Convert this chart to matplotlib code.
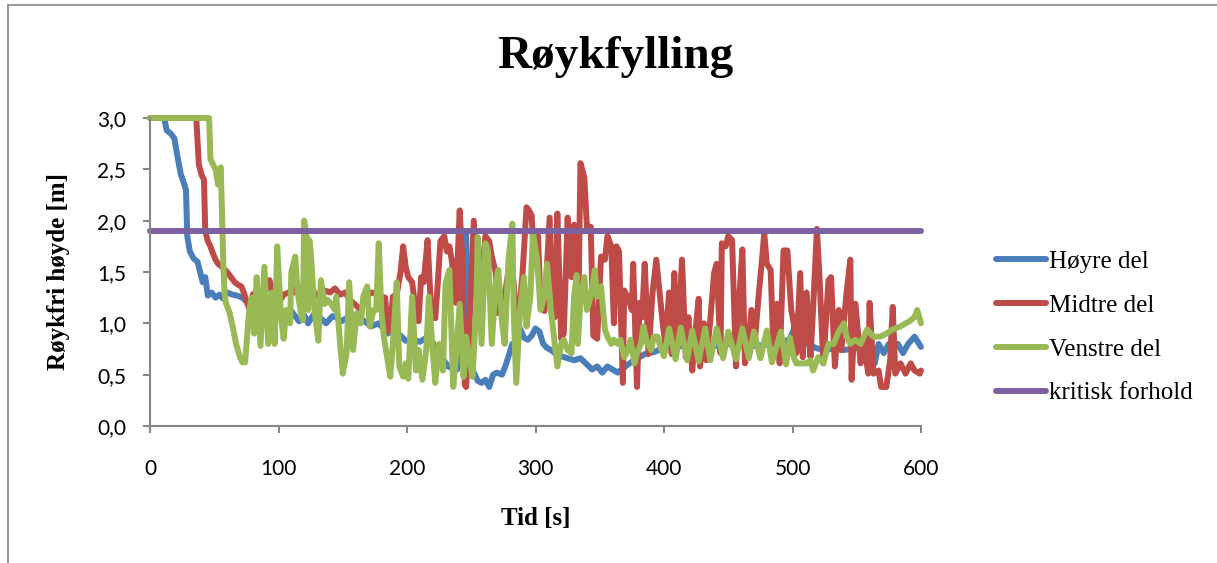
import matplotlib
matplotlib.use('Agg')
import matplotlib.pyplot as plt
from matplotlib.ticker import FuncFormatter, MultipleLocator
from matplotlib.lines import Line2D

# Høyre del
t_hoyre = [0, 11, 13, 16, 19, 21, 24, 26, 28, 29, 31, 34, 37, 39, 41, 43, 45, 48, 51, 54,
           57, 60, 64, 68, 72, 76, 80, 85, 90, 95, 100, 105, 110, 116, 120, 123, 127, 132, 137, 142,
           146, 149, 154, 160, 166, 172, 178, 185, 190, 195, 199, 205, 210, 215, 220, 224, 228, 232, 236, 239,
           242, 246, 248, 251, 255, 258, 261, 264, 267, 270, 274, 277, 282, 285, 288, 291, 294, 297, 300, 303,
           306, 309, 312, 316, 320, 325, 330, 335, 340, 344, 348, 352, 356, 360, 364, 368, 372, 378, 385, 392,
           400, 410, 420, 430, 440, 450, 460, 470, 480, 490, 498, 502, 506, 512, 518, 524, 530, 540, 550, 560,
           564, 567, 571, 575, 578, 582, 586, 590, 595, 600]
v_hoyre = [3.0, 3.0, 2.88, 2.85, 2.80, 2.65, 2.45, 2.38, 2.30, 1.85, 1.70, 1.63, 1.60, 1.50, 1.40, 1.45, 1.27, 1.30, 1.25, 1.28,
           1.24, 1.30, 1.28, 1.27, 1.25, 1.20, 1.18, 1.15, 1.13, 1.12, 1.12, 1.10, 1.12, 1.02, 1.08, 1.00, 1.08, 1.06, 1.00, 1.07,
           1.05, 1.02, 1.06, 1.04, 1.03, 0.97, 1.00, 0.90, 0.93, 0.88, 0.83, 0.84, 0.82, 0.86, 0.82, 0.66, 0.65, 0.58, 0.56, 0.55,
           1.25, 1.90, 0.80, 0.55, 0.44, 0.42, 0.45, 0.38, 0.50, 0.52, 0.50, 0.60, 0.80, 0.78, 0.95, 0.86, 0.84, 0.88, 0.95, 0.92,
           0.80, 0.76, 0.74, 0.70, 0.68, 0.66, 0.64, 0.66, 0.60, 0.55, 0.58, 0.52, 0.58, 0.55, 0.52, 0.56, 0.60, 0.65, 0.70, 0.72,
           0.76, 0.78, 0.77, 0.79, 0.78, 0.80, 0.79, 0.78, 0.79, 0.80, 0.85, 0.97, 0.88, 0.80, 0.76, 0.74, 0.75, 0.74, 0.76, 0.72,
           0.61, 0.80, 0.71, 0.80, 0.74, 0.80, 0.71, 0.80, 0.87, 0.77]

# Midtre del
t_midtre = [0, 36, 38, 40, 42, 43, 45, 47, 49, 51, 53, 56, 60, 63, 66, 68, 71, 73, 75, 77,
            80, 84, 88, 93, 96, 100, 104, 108, 112, 115, 119, 124, 128, 132, 136, 140, 144, 148, 152, 156,
            160, 164, 168, 172, 176, 180, 183, 185, 187, 189, 192, 195, 197, 199, 201, 204, 207, 209, 211, 213,
            216, 219, 222, 224, 226, 229, 231, 233, 235, 238, 241, 243, 245, 246, 248, 252, 255, 258, 261, 264,
            266, 269, 271, 274, 276, 277, 280, 283, 286, 288, 290, 293, 295, 297, 299, 302, 304, 307, 311, 313,
            315, 317, 320, 322, 325, 328, 330, 333, 335, 338, 340, 343, 345, 348, 351, 354, 356, 359, 361, 363,
            365, 368, 369, 372, 375, 376, 379, 381, 383, 385, 388, 391, 394, 397, 399, 401, 404, 406, 408, 410,
            412, 414, 417, 419, 422, 424, 427, 428, 431, 433, 436, 439, 441, 444, 445, 448, 450, 453, 456, 458,
            461, 463, 466, 468, 471, 474, 476, 478, 480, 483, 485, 488, 490, 493, 496, 499, 501, 503, 506, 508,
            511, 514, 516, 519, 521, 524, 528, 530, 533, 536, 538, 542, 545, 546, 549, 553, 555, 559, 560, 563,
            567, 569, 573, 576, 578, 580, 584, 588, 592, 595, 599, 600]
v_midtre = [3.0, 3.0, 2.55, 2.45, 2.40, 1.90, 1.80, 1.75, 1.68, 1.62, 1.58, 1.55, 1.50, 1.45, 1.40, 1.38, 1.36, 1.30, 1.22, 1.15,
            1.28, 1.32, 1.25, 1.42, 1.28, 1.20, 1.28, 1.30, 1.30, 1.36, 1.28, 1.39, 1.30, 1.25, 1.32, 1.30, 1.34, 1.28, 1.30, 1.22,
            1.18, 1.13, 1.25, 1.30, 1.29, 1.26, 1.25, 0.92, 0.95, 1.26, 1.28, 1.50, 1.75, 1.55, 1.45, 1.40, 1.10, 1.02, 1.45, 1.40,
            1.81, 1.06, 1.05, 1.40, 1.80, 1.85, 1.70, 1.75, 1.60, 1.20, 2.10, 1.62, 0.40, 0.38, 0.80, 2.00, 1.00, 1.40, 1.85, 1.80,
            1.65, 1.50, 1.10, 1.30, 0.85, 1.35, 1.60, 1.40, 0.85, 1.20, 1.50, 2.13, 2.10, 2.05, 1.60, 1.85, 1.15, 1.12, 2.03, 1.10,
            1.06, 2.07, 0.85, 0.90, 2.03, 1.45, 1.96, 0.85, 2.56, 2.42, 1.94, 1.94, 0.88, 0.85, 1.65, 1.62, 1.85, 1.75, 1.00, 1.75,
            1.70, 0.42, 1.32, 1.25, 1.13, 1.58, 0.38, 1.20, 1.06, 1.58, 0.70, 1.29, 1.62, 1.25, 1.00, 0.80, 1.30, 0.70, 1.49, 0.74,
            1.10, 1.62, 0.67, 1.06, 0.54, 0.87, 1.24, 0.58, 1.00, 0.64, 1.03, 1.49, 1.58, 0.71, 1.78, 1.75, 1.85, 1.81, 0.58, 1.13,
            1.72, 0.61, 0.84, 1.13, 0.87, 1.32, 1.58, 1.88, 1.58, 1.52, 0.80, 1.19, 0.61, 1.71, 1.71, 1.13, 1.00, 0.71, 1.49, 0.67,
            1.30, 0.67, 1.13, 1.92, 1.45, 0.61, 1.42, 1.45, 0.58, 1.13, 0.74, 1.29, 1.62, 0.45, 1.19, 0.61, 0.84, 0.51, 1.20, 0.51,
            0.54, 0.38, 0.38, 0.64, 1.16, 0.51, 0.61, 0.51, 0.61, 0.54, 0.51, 0.54]

# Venstre del
t_venstre = [0, 46, 47, 49, 51, 53, 55, 56, 57, 58, 59, 62, 65, 67, 70, 72, 74, 75, 77, 79,
             81, 83, 86, 89, 92, 95, 97, 99, 102, 104, 106, 109, 110, 113, 115, 118, 119, 120, 122, 123,
             124, 125, 128, 131, 133, 136, 138, 141, 144, 145, 148, 150, 153, 155, 158, 161, 164, 166, 169, 171,
             174, 176, 178, 180, 182, 184, 187, 189, 192, 194, 197, 199, 201, 204, 207, 209, 212, 215, 217, 220,
             222, 225, 228, 230, 233, 236, 238, 241, 244, 246, 249, 251, 254, 255, 258, 261, 263, 266, 269, 271,
             274, 276, 279, 282, 283, 285, 288, 291, 293, 296, 298, 301, 304, 307, 309, 312, 315, 317, 320, 322,
             325, 328, 330, 332, 333, 335, 338, 340, 343, 346, 348, 351, 354, 356, 359, 361, 364, 366, 369, 372,
             374, 377, 379, 382, 384, 387, 390, 392, 395, 398, 400, 404, 409, 413, 418, 422, 427, 432, 436, 441,
             446, 450, 456, 461, 466, 470, 475, 480, 484, 491, 495, 498, 501, 503, 507, 511, 514, 516, 520, 524,
             528, 532, 536, 540, 542, 545, 549, 553, 558, 563, 568, 573, 578, 584, 588, 591, 595, 597, 600]
v_venstre = [3.0, 3.0, 2.60, 2.55, 2.50, 2.35, 2.52, 2.10, 1.60, 1.30, 1.20, 1.10, 0.93, 0.80, 0.67, 0.62, 0.62, 0.78, 1.10, 1.25,
             0.90, 1.45, 0.78, 1.55, 0.80, 1.30, 0.80, 1.75, 1.06, 0.85, 1.13, 1.00, 1.50, 1.65, 1.29, 1.06, 1.03, 2.00, 1.84, 1.13,
             1.81, 1.71, 1.13, 0.83, 1.42, 1.19, 1.23, 1.19, 1.13, 1.26, 0.80, 0.51, 0.71, 1.40, 0.74, 1.10, 1.00, 1.26, 1.36, 0.97,
             1.13, 1.13, 1.78, 1.13, 0.87, 0.71, 0.48, 0.80, 1.40, 0.58, 0.48, 0.61, 0.46, 1.26, 0.54, 0.74, 0.45, 0.74, 1.26, 0.74,
             0.42, 0.80, 0.54, 1.39, 1.52, 0.38, 0.67, 1.19, 0.48, 0.87, 0.61, 0.48, 1.19, 1.84, 0.80, 1.78, 1.71, 0.80, 1.39, 1.52,
             1.00, 0.80, 1.62, 1.97, 1.13, 0.42, 1.13, 1.45, 0.97, 1.26, 1.88, 1.65, 1.13, 1.26, 1.58, 1.13, 0.80, 0.58, 0.80, 0.84,
             0.74, 0.71, 1.26, 1.47, 0.80, 1.23, 1.45, 1.13, 1.26, 1.52, 1.26, 1.36, 0.94, 0.87, 0.80, 0.84, 0.80, 0.84, 0.67, 0.74,
             0.84, 0.61, 0.71, 0.80, 0.97, 0.80, 0.74, 0.87, 0.87, 0.74, 0.68, 0.95, 0.65, 0.96, 0.64, 0.93, 0.63, 0.95, 0.64, 0.95,
             0.66, 0.92, 0.65, 0.95, 0.66, 0.92, 0.66, 0.93, 0.62, 0.92, 0.60, 0.86, 0.67, 0.61, 0.61, 0.61, 0.64, 0.54, 0.67, 0.61,
             0.80, 0.80, 0.92, 1.00, 0.87, 0.80, 0.84, 0.80, 0.94, 0.87, 0.87, 0.90, 0.94, 0.97, 1.00, 1.02, 1.06, 1.13, 1.00]

# kritisk forhold
t_kritisk = [0, 600]
v_kritisk = [1.9, 1.9]

labels = ['Høyre del', 'Midtre del', 'Venstre del', 'kritisk forhold']
colors = ['#4A7EBB', '#BE4B48', '#98B954', '#7D60A0']

W, H = 1217, 563
fig = plt.figure(figsize=(W / 100, H / 100), dpi=100)
ax = fig.add_axes([150 / W, 1 - 426 / H, (921 - 150) / W, (426 - 118) / H])

LW = 4.3
series = [(t_hoyre, v_hoyre), (t_midtre, v_midtre), (t_venstre, v_venstre), (t_kritisk, v_kritisk)]
for (tt, vv), lab, col in zip(series, labels, colors):
    ax.plot(tt, vv, color=col, lw=LW, label=lab, solid_joinstyle='round', solid_capstyle='round', clip_on=False)

ax.set_xlim(0, 600)
ax.set_ylim(0, 3)
ax.xaxis.set_major_locator(MultipleLocator(100))
ax.yaxis.set_major_locator(MultipleLocator(0.5))
ax.yaxis.set_major_formatter(FuncFormatter(lambda v, p: f"{v:.1f}".replace('.', ',')))
for s in ['top', 'right']:
    ax.spines[s].set_visible(False)
for s in ['left', 'bottom']:
    ax.spines[s].set_color('#868686')
    ax.spines[s].set_linewidth(1.5)
ax.tick_params(axis='both', direction='out', length=5, width=1.5, color='#868686',
               labelsize=15, labelcolor='black')
ax.tick_params(axis='x', pad=19)
ax.tick_params(axis='y', pad=12)
for lb in ax.get_xticklabels() + ax.get_yticklabels():
    lb.set_fontfamily('Lato')

serif = 'Liberation Serif'
ax.set_xlabel('Tid [s]', fontsize=18, fontweight='bold', family=serif, labelpad=20)
ax.set_ylabel('Røykfri høyde [m]', fontsize=18, fontweight='bold', family=serif, labelpad=20)
fig.text(615 / W, 1 - 57 / H, 'Røykfylling', ha='center', va='center',
         fontsize=34, fontweight='bold', family=serif)

handles = [Line2D([], [], color=c, lw=LW, solid_capstyle='round') for c in colors]
fig.legend(handles, labels, loc='upper left', bbox_to_anchor=(983 / W, 1 - 238 / H),
           frameon=False, borderpad=0, handlelength=2.0, handletextpad=0.15,
           labelspacing=0.85, prop={'family': serif, 'size': 18})

# chart frame
fig.add_artist(Line2D([8 / W, 8 / W], [0, 1 - 5 / H], color='#868686', lw=1.2))
fig.add_artist(Line2D([8 / W, 1], [1 - 5 / H, 1 - 5 / H], color='#868686', lw=1.2))

fig.savefig('out.png', dpi=100)
